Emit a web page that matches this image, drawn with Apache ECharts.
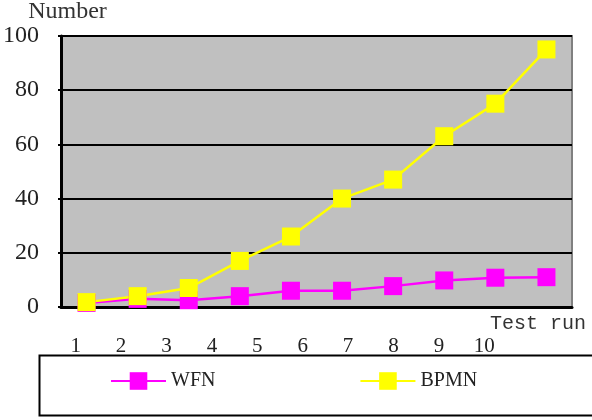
<!DOCTYPE html>
<html>
<head>
<meta charset="utf-8">
<script src="https://cdn.jsdelivr.net/npm/echarts@6/dist/echarts.min.js"></script>
<style>
html,body{margin:0;padding:0;background:#fff;}
#main{width:592px;height:420px;}
</style>
</head>
<body>
<div id="main"></div>
<script>
// test runs and counts
var runs = ['1','2','3','4','5','6','7','8','9','10'];
var wfn = [1.5, 3, 2.5, 4, 6, 6, 7.7, 9.8, 10.8, 11];
var bpmn = [1.8, 4, 7, 17, 26, 40, 47, 63, 75, 95];
var yTicks = {min: 0, max: 100, step: 20};

var serif = '"Liberation Serif", "DejaVu Serif", serif';

var chart = echarts.init(document.getElementById('main'));

var option = {
	backgroundColor: '#fff',
	animation: false,
	grid: [
		{left: 61, top: 33, right: 20, bottom: 113, show: true,
			backgroundColor: '#C0C0C0', borderColor: '#808080', borderWidth: 2},
		// only carries the run labels, they sit on a narrower spacing than the points
		{left: 53, top: 33, width: 454, bottom: 113}
	],
	// legend frame, runs past the right edge like the original
	graphic: [{
		type: 'rect', left: 37, top: 353,
		shape: {width: 600, height: 60},
		style: {fill: 'none', stroke: '#000', lineWidth: 2}
	}],
	legend: {
		left: 110, top: 371, padding: 0,
		itemGap: 144,
		itemWidth: 55, itemHeight: 22,
		textStyle: {fontFamily: serif, fontSize: 20, color: '#222'},
		data: ['WFN', 'BPMN']
	},
	xAxis: [
		{
			type: 'category', gridIndex: 0, data: runs, boundaryGap: true,
			axisLine: {lineStyle: {color: '#000', width: 3}},
			axisTick: {inside: true, length: 6, lineStyle: {color: '#000', width: 2}},
			axisLabel: {show: false},
			name: 'Test run', nameLocation: 'end', nameGap: -82,
			nameTextStyle: {fontFamily: '"Liberation Mono", monospace', fontSize: 20, color: '#333',
				align: 'left', verticalAlign: 'top', padding: [7, 0, 0, 0]}
		},
		{
			type: 'category', gridIndex: 1, data: runs, boundaryGap: true,
			axisLine: {show: false}, axisTick: {show: false},
			axisLabel: {margin: 29, fontFamily: serif, fontSize: 21, color: '#222'}
		}
	],
	yAxis: [
		{
			type: 'value', gridIndex: 0, min: yTicks.min, max: yTicks.max, interval: yTicks.step,
			axisLine: {show: true, lineStyle: {color: '#000', width: 3}},
			axisTick: {show: true, length: 3, lineStyle: {color: '#000', width: 2}},
			splitLine: {lineStyle: {color: '#000', width: 2}},
			axisLabel: {margin: 22, fontFamily: serif, fontSize: 24, color: '#222'},
			name: 'Number', nameLocation: 'end', nameGap: 9,
			nameTextStyle: {fontFamily: serif, fontSize: 24, color: '#333',
				align: 'center', verticalAlign: 'bottom', padding: [0, 0, 0, 13]}
		},
		{type: 'value', gridIndex: 1, show: false}
	],
	series: [
		{
			name: 'WFN', type: 'line', data: wfn,
			xAxisIndex: 0, yAxisIndex: 0,
			symbol: 'rect', symbolSize: 18,
			lineStyle: {color: '#FF00FF', width: 2.5},
			itemStyle: {color: '#FF00FF'}
		},
		{
			name: 'BPMN', type: 'line', data: bpmn,
			xAxisIndex: 0, yAxisIndex: 0,
			symbol: 'rect', symbolSize: 18,
			lineStyle: {color: '#FFFF00', width: 2.5},
			itemStyle: {color: '#FFFF00'}
		}
	]
};

chart.setOption(option);
</script>
</body>
</html>
